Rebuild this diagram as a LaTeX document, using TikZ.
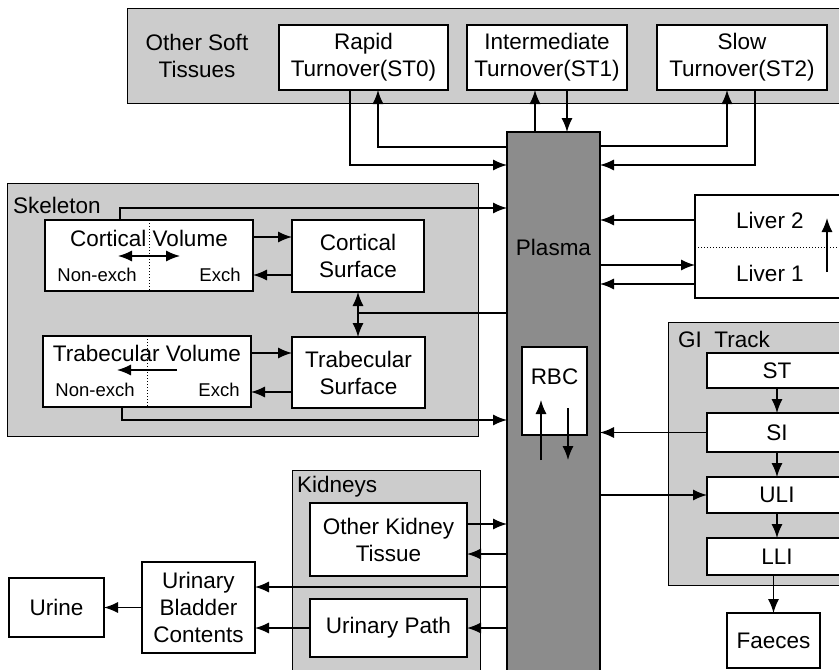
\documentclass[tikz,border=0pt]{standalone}
\usepackage{fontspec}
\setmainfont{Liberation Sans}
\usepackage{tikz}
\usetikzlibrary{arrows.meta}

\begin{document}
\begin{tikzpicture}[
      x=1pt, y=-1pt,
      font=\fontsize{22.5}{27}\selectfont,
      group/.style={draw, line width=1pt, fill=black!20, inner sep=0pt, outer sep=0pt, anchor=north west},
      box/.style={draw, line width=1.5pt, fill=white, align=center, inner sep=0pt, outer sep=0pt, anchor=north west},
      small/.style={font=\fontsize{18.5}{21}\selectfont, inner sep=0pt},
      flow/.style={line width=1.3pt, ->},
      link/.style={line width=1.3pt},
      >={Latex[length=14pt,width=11pt]}
    ]
    \useasboundingbox (0,0) rectangle (839,670);
    \clip (0,0) rectangle (839,670);

    % compartment groups
    \node[group, minimum width=720pt, minimum height=95pt] (soft) at (127,8) {};
    \node[group, minimum width=471pt, minimum height=253pt] (skel) at (7,183) {};
    \node[group, minimum width=180pt, minimum height=263pt] (gi) at (668,322) {};
    \node[group, minimum width=188pt, minimum height=210pt] (kid) at (292,470) {};
    \node[group, draw, line width=1.5pt, fill=black!45, minimum width=93pt, minimum height=550pt] (plasma) at (507,132) {};

    \node[align=center, inner sep=0pt] (softlbl) at (197,56) {Other Soft\\Tissues};
    \node[inner sep=0pt, anchor=west] (skellbl) at (13,205) {Skeleton};
    \node[inner sep=0pt, anchor=west] (gilbl) at (678,339) {GI\ \ Track};
    \node[inner sep=0pt, anchor=west] (kidlbl) at (297,487) {Kidneys};
    \node[inner sep=0pt] (plasmalbl) at (553.5,247) {Plasma};

    % soft tissues
    \node[box, minimum width=169pt, minimum height=65pt] (rapid) at (279,25) {Rapid\\Turnover(ST0)};
    \node[box, minimum width=160pt, minimum height=65pt] (inter) at (467,25) {Intermediate\\Turnover(ST1)};
    \node[box, minimum width=170pt, minimum height=65pt] (slow) at (657,25) {Slow\\Turnover(ST2)};

    % skeleton
    \node[box, minimum width=208pt, minimum height=71pt] (cortvol) at (45,220) {};
    \node[box, minimum width=132pt, minimum height=72pt] (cortsurf) at (292,220) {Cortical\\Surface};
    \node[box, minimum width=208pt, minimum height=71pt] (trabvol) at (43,336) {};
    \node[box, minimum width=133pt, minimum height=71pt] (trabsurf) at (292,337) {Trabecular\\Surface};

    \draw[dotted, line width=1pt] (cortvol.north -| 149,0) -- (cortvol.south -| 149,0);
    \draw[dotted, line width=1pt] (trabvol.north -| 147,0) -- (trabvol.south -| 147,0);
    \node[inner sep=0pt] (cortvollbl) at (149,238) {Cortical Volume};
    \node[small] (cortne) at (97,275) {Non-exch};
    \node[small] (cortex) at (220,275) {Exch};
    \node[inner sep=0pt] (trabvollbl) at (147,353) {Trabecular Volume};
    \node[small] (trabne) at (95,390) {Non-exch};
    \node[small] (trabex) at (219,390) {Exch};

    % liver, rbc
    \node[box, minimum width=155pt, minimum height=103pt] (liver) at (695,195) {};
    \node[inner sep=0pt] (liver2) at (770,220) {Liver 2};
    \node[inner sep=0pt] (liver1) at (770,273) {Liver 1};
    \node[box, minimum width=65pt, minimum height=88pt] (rbc) at (522,347) {};
    \node[inner sep=0pt] (rbclbl) at (554.5,377) {RBC};

    % gi track
    \node[box, minimum width=140pt, minimum height=35pt] (st) at (707,353) {ST};
    \node[box, minimum width=140pt, minimum height=39pt] (si) at (707,413) {SI};
    \node[box, minimum width=140pt, minimum height=36pt] (uli) at (707,477) {ULI};
    \node[box, minimum width=140pt, minimum height=37pt] (lli) at (707,538) {LLI};
    \node[box, minimum width=93pt, minimum height=55pt] (faeces) at (727,613) {Faeces};

    % kidneys and excretion
    \node[box, minimum width=157pt, minimum height=73pt] (okt) at (310,503) {Other Kidney\\Tissue};
    \node[box, minimum width=157pt, minimum height=58pt] (upath) at (310,599) {Urinary Path};
    \node[box, minimum width=113pt, minimum height=91pt] (bladder) at (142,562) {Urinary\\Bladder\\Contents};
    \node[box, minimum width=95pt, minimum height=59pt] (urine) at (9,578) {Urine};

    % soft tissue exchange
    \draw[flow] (rapid.south -| 350,0) |- (plasma.west |- 0,165);
    \draw[flow] (plasma.west |- 0,147) -| (rapid.south -| 378,0);
    \draw[flow] (plasma.north -| 535,0) -- (inter.south -| 535,0);
    \draw[flow] (inter.south -| 567,0) -- (plasma.north -| 567,0);
    \draw[flow] (plasma.east |- 0,146) -| (slow.south -| 727,0);
    \draw[flow] (slow.south -| 755,0) |- (plasma.east |- 0,165);

    % skeleton exchange
    \draw[flow] (cortvol.north -| 120,0) |- (plasma.west |- 0,208);
    \draw[flow] (trabvol.south -| 122,0) |- (plasma.west |- 0,420);
    \draw[flow] (cortvol.east |- 0,237) -- (cortsurf.west |- 0,237);
    \draw[flow] (cortsurf.west |- 0,275) -- (cortvol.east |- 0,275);
    \draw[flow] (trabvol.east |- 0,353) -- (trabsurf.west |- 0,353);
    \draw[flow] (trabsurf.west |- 0,392) -- (trabvol.east |- 0,392);
    \coordinate (surfsplit) at (358,313);
    \draw[link] (plasma.west |- surfsplit) -- (surfsplit);
    \draw[flow] (surfsplit) -- (cortsurf.south -| surfsplit);
    \draw[flow] (surfsplit) -- (trabsurf.north -| surfsplit);
    \coordinate (cvl) at (118,256);
    \coordinate (cvr) at (180,256);
    \draw[link, <->] (cvl) -- (cvr);
    \coordinate (tvl) at (117,370);
    \coordinate (tvr) at (177,370);
    \draw[flow] (tvr) -- (tvl);

    % liver
    \draw[dotted, line width=1pt] (liver.west |- 0,247) -- (liver.east |- 0,247);
    \draw[flow] (liver.west |- 0,220) -- (plasma.east |- 0,220);
    \draw[flow] (plasma.east |- 0,265) -- (liver.west |- 0,265);
    \draw[flow] (liver.west |- 0,284) -- (plasma.east |- 0,284);
    \coordinate (lvb) at (827,272);
    \coordinate (lvt) at (827,218);
    \draw[flow] (lvb) -- (lvt);

    % rbc
    \coordinate (rbcin) at (541,460);
    \coordinate (rbcout) at (568,460);
    \draw[flow] (rbcin) -- (rbcin |- 0,400);
    \draw[flow] (rbcout |- 0,408) -- (rbcout);

    % gi track
    \draw[flow] (st) -- (si);
    \draw[flow] (si) -- (uli);
    \draw[flow] (uli) -- (lli);
    \draw[flow] (lli.south -| faeces.north) -- (faeces.north);
    \draw[flow] (si.west) -- (plasma.east |- si.west);
    \draw[flow] (plasma.east |- uli.west) -- (uli.west);

    % kidneys
    \draw[flow] (okt.east |- 0,524) -- (plasma.west |- 0,524);
    \draw[flow] (plasma.west |- 0,554) -- (okt.east |- 0,554);
    \draw[flow] (plasma.west |- 0,587) -- (bladder.east |- 0,587);
    \draw[flow] (plasma.west |- upath.east) -- (upath.east);
    \draw[flow] (upath.west) -- (bladder.east |- upath.west);
    \draw[flow] (bladder.west |- urine.east) -- (urine.east);
  \end{tikzpicture}
\end{document}
